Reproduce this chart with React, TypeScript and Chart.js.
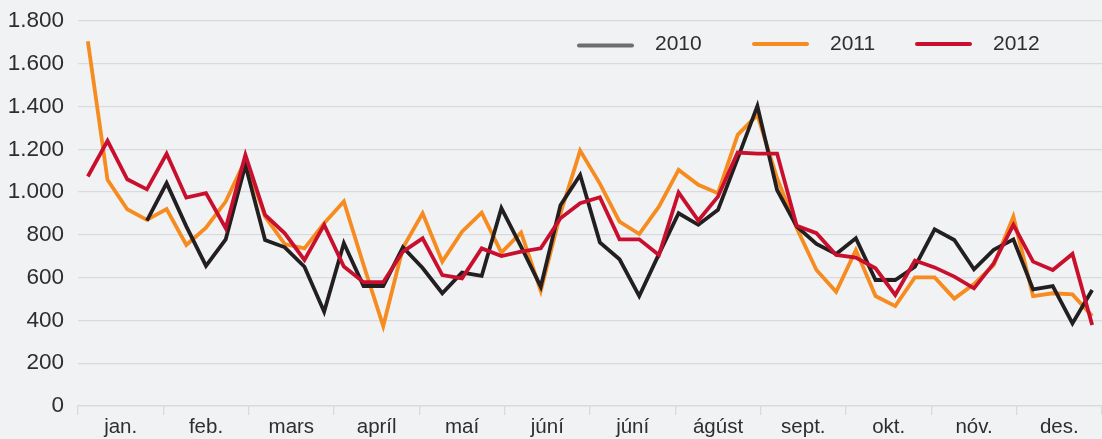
import React, { useEffect, useRef } from 'react';
import { Chart, registerables } from 'chart.js';

Chart.register(...registerables);

const months = ['jan.', 'feb.', 'mars', 'apríl', 'maí', 'júní', 'júní', 'ágúst', 'sept.', 'okt.', 'nóv.', 'des.'];
const seriesLabels = ['2010', '2011', '2012'];

const series2010 = [null, null, null, 867, 1042, 840, 655, 779, 1127, 776, 742, 651, 441, 761, 561, 561, 742, 645, 527, 624, 608, 925, 745, 558, 939, 1080, 765, 686, 514, 710, 901, 847, 917, 1158, 1403, 1010, 839, 758, 711, 784, 589, 589, 651, 826, 776, 639, 730, 779, 545, 561, 386, 542];
const series2011 = [1705, 1057, 920, 870, 921, 753, 834, 956, 1150, 886, 757, 737, 854, 956, 660, 374, 740, 901, 675, 815, 904, 717, 811, 539, 900, 1194, 1040, 862, 804, 932, 1104, 1034, 995, 1268, 1361, 1065, 831, 636, 534, 729, 514, 467, 601, 601, 502, 570, 659, 885, 514, 527, 522, 421];
const series2012 = [1073, 1240, 1060, 1013, 1179, 974, 995, 831, 1174, 893, 807, 683, 847, 652, 579, 579, 722, 784, 612, 597, 737, 701, 722, 737, 878, 948, 976, 779, 779, 706, 998, 867, 979, 1185, 1180, 1180, 842, 808, 706, 694, 644, 519, 680, 648, 605, 550, 667, 847, 675, 636, 711, 379];

const yTicks = [0, 200, 400, 600, 800, 1000, 1200, 1400, 1600, 1800];

const BG = '#f1f2f4';
const GRID = '#d9dadd';
const TEXT = '#2e2e2e';
const FONT = '"Liberation Sans", Arial, sans-serif';
const lineColors = ['#231f20', '#f68b1f', '#c8102e'];
const legendColors = ['#6d6e71', '#f68b1f', '#c8102e'];

const toPoints = (arr: (number | null)[]) => arr.map((v, i) => ({ x: i + 0.5, y: v }));

const fmt = (v: number) => String(v).replace(/\B(?=(\d{3})+(?!\d))/g, '.');

const bgPlugin = {
  id: 'bgFill',
  beforeDraw(chart: any) {
    const { ctx, width, height } = chart;
    ctx.save();
    ctx.fillStyle = BG;
    ctx.fillRect(0, 0, width, height);
    ctx.restore();
  },
};

const legendPlugin = {
  id: 'lineLegend',
  afterDraw(chart: any, _args: any, opts: any) {
    const { ctx } = chart;
    ctx.save();
    chart.data.datasets.forEach((ds: any, i: number) => {
      const x0 = opts.xs[i];
      const ly = opts.y + (i === 0 ? 1.5 : 0);
      ctx.strokeStyle = opts.colors[i];
      ctx.lineWidth = 4;
      ctx.lineCap = 'round';
      ctx.beginPath();
      ctx.moveTo(x0 + 2, ly);
      ctx.lineTo(x0 + opts.lineLen - 2, ly);
      ctx.stroke();
      ctx.fillStyle = TEXT;
      ctx.font = `21px ${FONT}`;
      ctx.textBaseline = 'middle';
      ctx.textAlign = 'left';
      ctx.fillText(ds.label, x0 + opts.lineLen + opts.gap, opts.y);
    });
    ctx.restore();
  },
};

export default function App() {
  const ref = useRef<HTMLCanvasElement>(null);
  useEffect(() => {
    document.body.style.margin = '0';
    document.body.style.background = BG;
    const chart = new Chart(ref.current!, {
      type: 'line',
      data: {
        datasets: [
          { label: seriesLabels[0], data: toPoints(series2010), borderColor: lineColors[0], order: 1 },
          { label: seriesLabels[1], data: toPoints(series2011), borderColor: lineColors[1], order: 2 },
          { label: seriesLabels[2], data: toPoints(series2012), borderColor: lineColors[2], order: 0 },
        ] as any,
      },
      options: {
        animation: false,
        responsive: false,
        maintainAspectRatio: false,
        layout: { padding: { top: 21, left: 0, right: 0, bottom: 0 } },
        elements: {
          point: { radius: 0, hoverRadius: 0 },
          line: { borderWidth: 3.8, tension: 0, borderJoinStyle: 'miter' },
        },
        plugins: {
          legend: { display: false },
          tooltip: { enabled: false },
          lineLegend: { xs: [577, 752, 915], y: 44, lineLen: 57, gap: 21, colors: legendColors },
        } as any,
        scales: {
          x: { type: 'linear', min: 0, max: 52, display: false },
          m: {
            type: 'category',
            labels: months,
            position: 'bottom',
            offset: true,
            grid: { display: true, drawOnChartArea: false, drawTicks: true, tickLength: 9, offset: true, color: GRID, lineWidth: 1.3 },
            border: { display: true, color: GRID, width: 1.3 },
            ticks: { color: TEXT, font: { family: FONT, size: 20.5 }, padding: 0, maxRotation: 0, autoSkip: false },
            afterFit: (s: any) => { s.height = 33; s.paddingLeft = 0; s.paddingRight = 0; },
          },
          y: {
            type: 'linear',
            min: 0,
            max: 1800,
            afterBuildTicks: (s: any) => { s.ticks = yTicks.map((v) => ({ value: v })); },
            grid: { color: GRID, lineWidth: 1.3, drawTicks: false },
            border: { display: false },
            ticks: { color: TEXT, font: { family: FONT, size: 22.5 }, padding: 14, callback: (v: any) => fmt(Number(v)) },
            afterFit: (s: any) => { s.width = 78; s.paddingTop = 8; s.paddingBottom = 8; },
          },
        } as any,
      },
      plugins: [bgPlugin, legendPlugin],
    });
    return () => chart.destroy();
  }, []);
  return (
    <div style={{ width: 1102, height: 439, background: BG }}>
      <canvas ref={ref} width={1102} height={439} style={{ display: 'block', width: 1102, height: 439 }} />
    </div>
  );
}
